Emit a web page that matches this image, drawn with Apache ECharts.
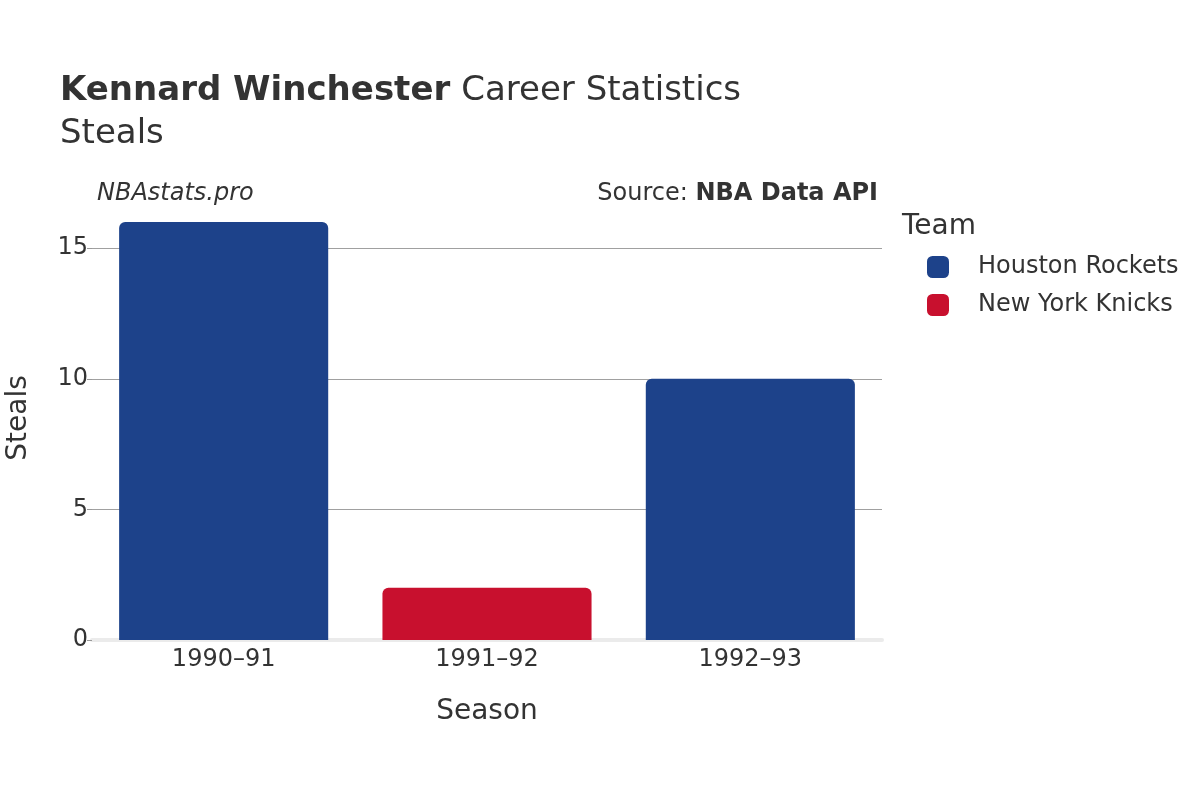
<!DOCTYPE html>
<html><head><meta charset="utf-8">
<script src="https://cdn.jsdelivr.net/npm/echarts@6/dist/echarts.min.js"></script>
<style>html,body{margin:0;padding:0;background:#fff}#c{width:1200px;height:800px}</style>
</head><body><div id="c"></div>
<script>
const seasons = ['1990–91', '1991–92', '1992–93'];
const houstonRockets = [16, null, 10];
const newYorkKnicks = [null, 2, null];
const yTicks = [0, 5, 10, 15];

const FONT = 'DejaVu Sans';
const chart = echarts.init(document.getElementById('c'));
chart.setOption({
  backgroundColor: '#fff',
  textStyle: { fontFamily: FONT },
  animation: false,
  graphic: [
    { type: 'text', left: 60, top: 74, style: { rich: { b: { fontFamily: FONT, fontSize: 34, fontWeight: 'bold', fill: '#333', padding: [0, 11, 0, 0] }, n: { fontFamily: FONT, fontSize: 34, fill: '#333' } }, text: '{b|Kennard Winchester}{n|Career Statistics}' } },
    { type: 'text', left: 60, top: 117, style: { text: 'Steals', fontFamily: FONT, fontSize: 34, fill: '#333' } },
    { type: 'text', left: 97, top: 182, style: { text: 'NBAstats.pro', fontFamily: FONT, fontSize: 24, fontStyle: 'italic', fill: '#333' } },
    { type: 'text', right: 322, top: 182, style: { rich: { n: { fontFamily: FONT, fontSize: 24, fill: '#333' }, b: { fontFamily: FONT, fontSize: 24, fontWeight: 'bold', fill: '#333' } }, text: '{n|Source: }{b|NBA Data API}' } },
    { type: 'text', left: 902, top: 213, style: { text: 'Team', fontFamily: FONT, fontSize: 28, fill: '#333' } }
  ],
  legend: {
    orient: 'vertical', left: 922, top: 250, itemWidth: 22, itemHeight: 22, itemGap: 14,
    icon: 'roundRect',
    textStyle: { fontFamily: FONT, fontSize: 24, color: '#333', padding: [0, 0, 0, 24] },
    data: ['Houston Rockets', 'New York Knicks']
  },
  grid: { left: 92, right: 318, top: 196, bottom: 160, containLabel: false, outerBoundsMode: 'none' },
  xAxis: {
    type: 'category', data: seasons,
    name: 'Season', nameLocation: 'middle', nameGap: 58,
    nameTextStyle: { fontFamily: FONT, fontSize: 28, color: '#333' },
    axisLine: { show: true, lineStyle: { color: '#ebebeb', width: 4 } },
    axisTick: { show: false },
    axisLabel: { fontFamily: FONT, fontSize: 24, color: '#333', margin: 8 }
  },
  yAxis: {
    type: 'value', min: 0, max: 17, interval: 5,
    name: 'Steals', nameLocation: 'middle', nameGap: 59,
    nameTextStyle: { fontFamily: FONT, fontSize: 28, color: '#333' },
    axisLine: { show: false },
    axisTick: { show: true, length: 5, lineStyle: { color: '#999' } },
    axisLabel: { fontFamily: FONT, fontSize: 24, color: '#333', margin: 4, padding: [4, 0, 0, 0], showMaxLabel: false,
      formatter: v => yTicks.indexOf(v) >= 0 ? String(v) : '' },
    splitLine: { show: true, lineStyle: { color: ['transparent', '#a0a0a0', '#a0a0a0', '#a0a0a0', 'transparent'], width: 1 } }
  },
  series: [
    { name: 'Houston Rockets', type: 'bar', stack: 't', data: houstonRockets, barWidth: '79.4%',
      itemStyle: { color: '#1d428a', borderRadius: [6, 6, 0, 0] } },
    { name: 'New York Knicks', type: 'bar', stack: 't', data: newYorkKnicks, barWidth: '79.4%',
      itemStyle: { color: '#c8102e', borderRadius: [6, 6, 0, 0] } }
  ]
});
</script></body></html>
